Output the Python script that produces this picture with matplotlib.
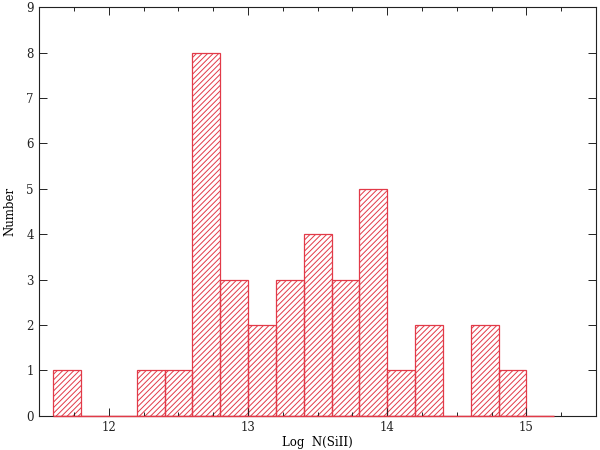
import matplotlib
matplotlib.use("Agg")
import matplotlib.pyplot as plt
from matplotlib.ticker import MultipleLocator
import numpy as np

bin_edges = [11.6, 11.8, 12.0, 12.2, 12.4, 12.6, 12.8, 13.0, 13.2, 13.4, 13.6,
             13.8, 14.0, 14.2, 14.4, 14.6, 14.8, 15.0, 15.2]
counts = [1, 0, 0, 1, 1, 8, 3, 2, 3, 4, 3, 5, 1, 2, 0, 2, 1, 0]
x_ticks = [12, 13, 14, 15]
y_ticks = [0, 1, 2, 3, 4, 5, 6, 7, 8, 9]

plt.rcParams['font.family'] = ['DejaVu Serif']
plt.rcParams['hatch.color'] = '#f08088'
plt.rcParams['hatch.linewidth'] = 0.7

fig = plt.figure(figsize=(6, 4.5), dpi=100)
ax = fig.add_axes([0.0655, 0.0762, 0.9277, 0.9076])

edges = np.array(bin_edges)
ax.bar(edges[:-1], counts, width=np.diff(edges), align='edge',
       facecolor='none', edgecolor='#e23a48', linewidth=0.9, hatch='//////')
# baseline for the empty bins, as in the reference
ax.hlines(0, edges[0], edges[-1], colors='#e23a48', linewidth=1.0, zorder=3,
          clip_on=False)

ax.set_xlim(11.5, 15.5)
ax.set_ylim(0, 9)
ax.set_xticks(x_ticks)
ax.set_yticks(y_ticks)
ax.xaxis.set_minor_locator(MultipleLocator(0.25))
ax.tick_params(which='both', direction='in', top=True, right=True,
               labelsize=8.5, colors='#222222', width=0.7)
ax.tick_params(which='major', length=6)
ax.tick_params(which='minor', length=3)
ax.tick_params(axis='x', pad=4)
ax.tick_params(axis='y', pad=4)
for s in ax.spines.values():
    s.set_linewidth(0.8)
    s.set_color('#222222')

ax.set_xlabel('Log  N(SiII)', fontsize=8.5, labelpad=1)
ax.set_ylabel('Number', fontsize=8.5, labelpad=7)

fig.savefig('out.png', dpi=100)
